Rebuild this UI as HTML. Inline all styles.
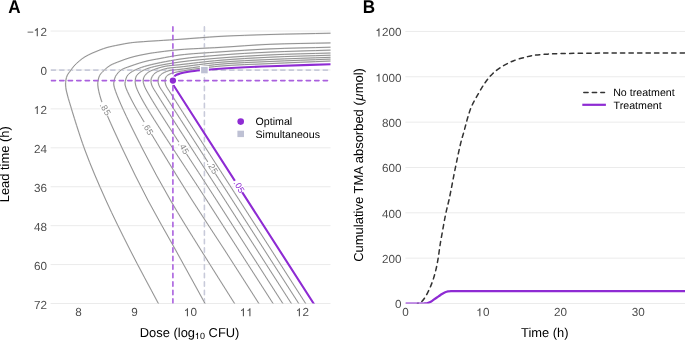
<!DOCTYPE html><html><head><meta charset="utf-8"><style>html,body{margin:0;padding:0;background:#fff;}svg{display:block;will-change:transform;text-rendering:geometricPrecision;font-family:"Liberation Sans",sans-serif;}</style></head><body>
<svg width="685" height="340" viewBox="0 0 685 340">
<rect width="685" height="340" fill="#fff"/>
<defs><clipPath id="ca"><rect x="50.6" y="26" width="279.9" height="277.5"/></clipPath><clipPath id="cb"><rect x="405.4" y="26" width="279.6" height="277.5"/></clipPath></defs>
<g stroke="#EBEBEB" stroke-width="1" fill="none">
<line x1="50.6" y1="31.05" x2="330.5" y2="31.05"/>
<line x1="50.6" y1="69.97" x2="330.5" y2="69.97"/>
<line x1="50.6" y1="108.89" x2="330.5" y2="108.89"/>
<line x1="50.6" y1="147.81" x2="330.5" y2="147.81"/>
<line x1="50.6" y1="186.74" x2="330.5" y2="186.74"/>
<line x1="50.6" y1="225.66" x2="330.5" y2="225.66"/>
<line x1="50.6" y1="264.58" x2="330.5" y2="264.58"/>
<line x1="50.6" y1="303.5" x2="330.5" y2="303.5"/>
<line x1="405.4" y1="303.5" x2="685" y2="303.5"/>
<line x1="405.4" y1="258.16" x2="685" y2="258.16"/>
<line x1="405.4" y1="212.82" x2="685" y2="212.82"/>
<line x1="405.4" y1="167.47" x2="685" y2="167.47"/>
<line x1="405.4" y1="122.13" x2="685" y2="122.13"/>
<line x1="405.4" y1="76.79" x2="685" y2="76.79"/>
<line x1="405.4" y1="31.45" x2="685" y2="31.45"/>
</g>
<g clip-path="url(#ca)">
<g fill="none" stroke-width="1.6" stroke-dasharray="4.3 4.2" stroke-linecap="round">
<line x1="204.4" y1="26.9" x2="204.4" y2="303.5" stroke="#C8CADA"/>
<line x1="51.2" y1="70.1" x2="330.5" y2="70.1" stroke="#C8CADA"/>
</g>
<g stroke="#E6E6E6" stroke-width="1.6" fill="none">
<path d="M331 33.2 C310.67 33.63 289.32 33.93 270 34.5 C252.5 35.02 235.73 35.53 220 36.4 C205.92 37.18 193.34 38.38 180 39.3 C166.67 40.22 148.7 41.2 140 41.9 C135.78 42.24 133.9 42.35 130.6 42.8 C126.88 43.31 122.73 44.12 118.8 44.9 C114.86 45.68 110.4 46.55 107 47.5 C104.34 48.25 102.4 49 100 49.9 C97.41 50.88 94.55 52.02 92 53.2 C89.56 54.33 87.15 55.48 85 56.8 C83.01 58.03 81.29 59.32 79.5 60.8 C77.61 62.37 75.59 64.21 74 66 C72.56 67.62 71.45 69.42 70.3 71 C69.27 72.4 68.13 73.52 67.4 75 C66.65 76.52 66.2 78.32 65.9 80 C65.61 81.65 65.55 83.34 65.6 85 C65.65 86.67 65.9 88.34 66.2 90 C66.5 91.68 66.97 93.34 67.4 95 C67.83 96.67 68.04 97.48 68.8 100 C71.21 108.02 78.79 133.46 84.9 150 C91.1 166.8 98.32 183.44 105.8 200 C113.37 216.77 121.5 233.05 130.1 250 C139.15 267.85 149.3 286.33 158.9 304.5"/>
<path d="M331 42.9 C310.67 43.37 289.32 43.48 270 44.3 C252.5 45.04 235.74 46.48 220 47.4 C205.93 48.22 191.03 48.66 180 49.6 C172.18 50.26 165.52 51.2 160 51.9 C156.09 52.4 153.33 52.75 150 53.3 C146.66 53.85 143.32 54.47 140 55.2 C136.66 55.94 133.31 56.71 130 57.7 C126.64 58.7 123.31 59.91 120 61.2 C116.64 62.51 112.76 63.84 110 65.5 C107.76 66.85 106.12 68.36 104.4 70 C102.69 71.63 100.76 73.41 99.7 75.3 C98.77 76.97 98.41 78.9 98.1 80.6 C97.82 82.12 97.65 83.11 97.8 85 C98.07 88.53 99.12 93.66 101.2 100 C105.11 111.93 115.28 133.43 123 150 C130.81 166.76 139.09 183.44 147.8 200 C156.62 216.77 166.18 232.96 175.6 250 C185.43 267.77 195.6 286.33 205.6 304.5"/>
<path d="M331 47.2 C310.67 47.77 289.32 48.05 270 48.9 C252.5 49.67 235.73 50.82 220 51.9 C205.92 52.87 191.02 53.61 180 55 C172.16 55.99 165.95 57.41 160 58.5 C155.2 59.38 150.7 60.14 147 61 C144.2 61.65 142.29 62.2 139.7 63 C136.68 63.93 133.14 65.11 130 66.3 C126.95 67.45 123.55 68.25 121.1 70 C118.83 71.62 116.78 74.08 115.6 76.2 C114.63 77.93 114.28 79.9 114 81.5 C113.77 82.77 113.58 83.46 113.8 85 C114.26 88.29 116.37 93.64 119 100 C123.91 111.9 134.61 133.44 143.1 150 C151.7 166.77 160.74 183.45 170.3 200 C180 216.79 190.35 233.01 200.9 250 C211.95 267.81 223.77 286.33 235.2 304.5"/>
<path d="M331 50.1 C310.67 50.77 289.32 51.2 270 52.1 C252.5 52.91 235.73 53.84 220 55.1 C205.91 56.23 192.88 57.13 180 59.1 C167.79 60.96 152.59 64.08 144.6 66.4 C140.36 67.63 137.73 68.74 135.1 70 C133.09 70.96 131.41 71.87 130 73 C128.79 73.97 127.77 74.9 127 76.2 C126.14 77.67 125.6 79.9 125.3 81.5 C125.06 82.77 124.83 83.47 125.1 85 C125.69 88.3 128.38 93.67 131.6 100 C137.68 111.93 151.07 133.38 161.1 150 C171.2 166.72 181.46 183.4 192 200 C202.62 216.73 213.58 232.95 224.6 250 C236.07 267.75 247.87 286.33 259.5 304.5"/>
<path d="M331 53 C310.67 53.63 289.32 54 270 54.9 C252.5 55.71 235.73 56.73 220 58 C205.91 59.14 191.8 60.37 180 62 C170.55 63.31 161.09 64.9 154.6 66.5 C150.46 67.52 147.26 68.53 144.6 69.7 C142.69 70.54 141.29 71.34 139.9 72.4 C138.57 73.42 137.17 74.57 136.4 75.9 C135.69 77.13 135.45 78.55 135.3 80 C135.14 81.57 135.09 82.95 135.6 85 C136.52 88.73 138.58 92.97 142.4 100 C152.79 119.1 186.16 168.17 208.04 202.25 C229.93 236.33 251.81 270.42 273.69 304.5"/>
<path d="M331 55.2 C310.67 55.87 289.32 56.28 270 57.2 C252.5 58.03 235.72 58.95 220 60.3 C205.91 61.51 190.11 63.6 180 64.7 C173.83 65.37 169.73 65.37 165.1 66.3 C160.92 67.14 156.5 68.59 153.4 69.8 C151.25 70.64 149.61 71.32 148.1 72.4 C146.72 73.39 145.42 74.58 144.6 75.9 C143.83 77.13 143.32 78.55 143.2 80 C143.07 81.57 143.35 83.04 144 85 C145.06 88.21 146.87 91.14 150.27 97 C160.54 114.67 194.68 166.17 216.88 200.75 C239.08 235.33 261.29 269.92 283.49 304.5"/>
<path d="M331 57.3 C310.67 58.03 289.32 58.61 270 59.5 C252.5 60.31 235.72 60.94 220 62.3 C205.9 63.52 189.59 65.94 180 67 C174.62 67.59 170.96 67.59 167.4 68.3 C164.7 68.84 162.54 69.56 160.4 70.4 C158.48 71.15 156.51 71.89 155.1 73 C153.86 73.98 152.89 75.27 152.2 76.5 C151.58 77.61 151.12 78.71 151 80 C150.86 81.5 151.04 83.09 151.7 85 C152.76 88.04 154.77 90.52 158.13 96 C168.61 113.1 202.75 165.5 225.06 200.25 C247.37 235 269.68 269.75 291.99 304.5"/>
<path d="M331 59.1 C310.67 59.9 289.32 60.6 270 61.5 C252.5 62.32 235.71 62.76 220 64.2 C205.9 65.5 188.89 68.38 180 69.4 C175.56 69.91 172.5 69.88 170 70.4 C168.44 70.73 167.55 71.1 166.3 71.6 C164.95 72.15 163.4 72.76 162.2 73.6 C161.05 74.41 159.89 75.39 159.2 76.5 C158.56 77.54 158.21 78.72 158.1 80 C157.98 81.51 158.13 83.13 158.8 85 C159.82 87.85 161.72 89.94 164.89 95 C175.22 111.51 209.72 164.83 232.14 199.75 C254.56 234.67 276.97 269.58 299.39 304.5"/>
<path d="M331 61 C310.67 61.87 289.32 62.71 270 63.6 C252.5 64.41 235.71 64.67 220 66.1 C205.9 67.38 188.86 69.71 180 71.4 C175.52 72.25 172.45 72.78 170 73.9 C168.38 74.64 167.12 75.41 166.3 76.5 C165.56 77.48 165.22 78.71 165.1 80 C164.96 81.5 165.15 83.16 165.8 85 C166.73 87.65 168.3 89.4 171.15 94 C180.98 109.92 216.19 164.17 238.72 199.25 C261.24 234.33 283.77 269.42 306.29 304.5"/>
</g>
<g stroke="#888888" stroke-width="0.9" fill="none">
<path d="M331 33.2 C310.67 33.63 289.32 33.93 270 34.5 C252.5 35.02 235.73 35.53 220 36.4 C205.92 37.18 193.34 38.38 180 39.3 C166.67 40.22 148.7 41.2 140 41.9 C135.78 42.24 133.9 42.35 130.6 42.8 C126.88 43.31 122.73 44.12 118.8 44.9 C114.86 45.68 110.4 46.55 107 47.5 C104.34 48.25 102.4 49 100 49.9 C97.41 50.88 94.55 52.02 92 53.2 C89.56 54.33 87.15 55.48 85 56.8 C83.01 58.03 81.29 59.32 79.5 60.8 C77.61 62.37 75.59 64.21 74 66 C72.56 67.62 71.45 69.42 70.3 71 C69.27 72.4 68.13 73.52 67.4 75 C66.65 76.52 66.2 78.32 65.9 80 C65.61 81.65 65.55 83.34 65.6 85 C65.65 86.67 65.9 88.34 66.2 90 C66.5 91.68 66.97 93.34 67.4 95 C67.83 96.67 68.04 97.48 68.8 100 C71.21 108.02 78.79 133.46 84.9 150 C91.1 166.8 98.32 183.44 105.8 200 C113.37 216.77 121.5 233.05 130.1 250 C139.15 267.85 149.3 286.33 158.9 304.5"/>
<path d="M331 42.9 C310.67 43.37 289.32 43.48 270 44.3 C252.5 45.04 235.74 46.48 220 47.4 C205.93 48.22 191.03 48.66 180 49.6 C172.18 50.26 165.52 51.2 160 51.9 C156.09 52.4 153.33 52.75 150 53.3 C146.66 53.85 143.32 54.47 140 55.2 C136.66 55.94 133.31 56.71 130 57.7 C126.64 58.7 123.31 59.91 120 61.2 C116.64 62.51 112.76 63.84 110 65.5 C107.76 66.85 106.12 68.36 104.4 70 C102.69 71.63 100.76 73.41 99.7 75.3 C98.77 76.97 98.41 78.9 98.1 80.6 C97.82 82.12 97.65 83.11 97.8 85 C98.07 88.53 99.12 93.66 101.2 100 C105.11 111.93 115.28 133.43 123 150 C130.81 166.76 139.09 183.44 147.8 200 C156.62 216.77 166.18 232.96 175.6 250 C185.43 267.77 195.6 286.33 205.6 304.5"/>
<path d="M331 47.2 C310.67 47.77 289.32 48.05 270 48.9 C252.5 49.67 235.73 50.82 220 51.9 C205.92 52.87 191.02 53.61 180 55 C172.16 55.99 165.95 57.41 160 58.5 C155.2 59.38 150.7 60.14 147 61 C144.2 61.65 142.29 62.2 139.7 63 C136.68 63.93 133.14 65.11 130 66.3 C126.95 67.45 123.55 68.25 121.1 70 C118.83 71.62 116.78 74.08 115.6 76.2 C114.63 77.93 114.28 79.9 114 81.5 C113.77 82.77 113.58 83.46 113.8 85 C114.26 88.29 116.37 93.64 119 100 C123.91 111.9 134.61 133.44 143.1 150 C151.7 166.77 160.74 183.45 170.3 200 C180 216.79 190.35 233.01 200.9 250 C211.95 267.81 223.77 286.33 235.2 304.5"/>
<path d="M331 50.1 C310.67 50.77 289.32 51.2 270 52.1 C252.5 52.91 235.73 53.84 220 55.1 C205.91 56.23 192.88 57.13 180 59.1 C167.79 60.96 152.59 64.08 144.6 66.4 C140.36 67.63 137.73 68.74 135.1 70 C133.09 70.96 131.41 71.87 130 73 C128.79 73.97 127.77 74.9 127 76.2 C126.14 77.67 125.6 79.9 125.3 81.5 C125.06 82.77 124.83 83.47 125.1 85 C125.69 88.3 128.38 93.67 131.6 100 C137.68 111.93 151.07 133.38 161.1 150 C171.2 166.72 181.46 183.4 192 200 C202.62 216.73 213.58 232.95 224.6 250 C236.07 267.75 247.87 286.33 259.5 304.5"/>
<path d="M331 53 C310.67 53.63 289.32 54 270 54.9 C252.5 55.71 235.73 56.73 220 58 C205.91 59.14 191.8 60.37 180 62 C170.55 63.31 161.09 64.9 154.6 66.5 C150.46 67.52 147.26 68.53 144.6 69.7 C142.69 70.54 141.29 71.34 139.9 72.4 C138.57 73.42 137.17 74.57 136.4 75.9 C135.69 77.13 135.45 78.55 135.3 80 C135.14 81.57 135.09 82.95 135.6 85 C136.52 88.73 138.58 92.97 142.4 100 C152.79 119.1 186.16 168.17 208.04 202.25 C229.93 236.33 251.81 270.42 273.69 304.5"/>
<path d="M331 55.2 C310.67 55.87 289.32 56.28 270 57.2 C252.5 58.03 235.72 58.95 220 60.3 C205.91 61.51 190.11 63.6 180 64.7 C173.83 65.37 169.73 65.37 165.1 66.3 C160.92 67.14 156.5 68.59 153.4 69.8 C151.25 70.64 149.61 71.32 148.1 72.4 C146.72 73.39 145.42 74.58 144.6 75.9 C143.83 77.13 143.32 78.55 143.2 80 C143.07 81.57 143.35 83.04 144 85 C145.06 88.21 146.87 91.14 150.27 97 C160.54 114.67 194.68 166.17 216.88 200.75 C239.08 235.33 261.29 269.92 283.49 304.5"/>
<path d="M331 57.3 C310.67 58.03 289.32 58.61 270 59.5 C252.5 60.31 235.72 60.94 220 62.3 C205.9 63.52 189.59 65.94 180 67 C174.62 67.59 170.96 67.59 167.4 68.3 C164.7 68.84 162.54 69.56 160.4 70.4 C158.48 71.15 156.51 71.89 155.1 73 C153.86 73.98 152.89 75.27 152.2 76.5 C151.58 77.61 151.12 78.71 151 80 C150.86 81.5 151.04 83.09 151.7 85 C152.76 88.04 154.77 90.52 158.13 96 C168.61 113.1 202.75 165.5 225.06 200.25 C247.37 235 269.68 269.75 291.99 304.5"/>
<path d="M331 59.1 C310.67 59.9 289.32 60.6 270 61.5 C252.5 62.32 235.71 62.76 220 64.2 C205.9 65.5 188.89 68.38 180 69.4 C175.56 69.91 172.5 69.88 170 70.4 C168.44 70.73 167.55 71.1 166.3 71.6 C164.95 72.15 163.4 72.76 162.2 73.6 C161.05 74.41 159.89 75.39 159.2 76.5 C158.56 77.54 158.21 78.72 158.1 80 C157.98 81.51 158.13 83.13 158.8 85 C159.82 87.85 161.72 89.94 164.89 95 C175.22 111.51 209.72 164.83 232.14 199.75 C254.56 234.67 276.97 269.58 299.39 304.5"/>
<path d="M331 61 C310.67 61.87 289.32 62.71 270 63.6 C252.5 64.41 235.71 64.67 220 66.1 C205.9 67.38 188.86 69.71 180 71.4 C175.52 72.25 172.45 72.78 170 73.9 C168.38 74.64 167.12 75.41 166.3 76.5 C165.56 77.48 165.22 78.71 165.1 80 C164.96 81.5 165.15 83.16 165.8 85 C166.73 87.65 168.3 89.4 171.15 94 C180.98 109.92 216.19 164.17 238.72 199.25 C261.24 234.33 283.77 269.42 306.29 304.5"/>
</g>
<path d="M331 64.2 C310.67 64.87 289.32 65.4 270 66.2 C252.5 66.92 231.94 67.9 220 68.7 C213.32 69.15 209.49 69.52 204.4 70 C199.5 70.46 194.35 70.82 190 71.5 C186.35 72.07 182.72 72.72 180 73.6 C178.01 74.24 176.28 74.64 175 75.8 C173.71 76.97 173.2 79 172.3 80.6 M171.44 82 L314.29 304.5" stroke="#8E2BD3" stroke-width="2.1" fill="none"/>
<rect transform="translate(104.75 108.85) rotate(68)" x="-7.3" y="-4.3" width="14.6" height="8.6" fill="#fff"/>
<text transform="translate(104.75 108.85) rotate(60)" x="0.6" y="2.6" font-size="8.8" letter-spacing="0.35" text-anchor="middle" fill="#888888">.85</text>
<rect transform="translate(147.3 128.4) rotate(59.5)" x="-7" y="-4.3" width="14" height="8.6" fill="#fff"/>
<text transform="translate(147.3 128.4) rotate(60)" x="0.6" y="2.6" font-size="8.8" letter-spacing="0.35" text-anchor="middle" fill="#888888">.65</text>
<rect transform="translate(183.05 147.8) rotate(57.3)" x="-7.1" y="-4.3" width="14.2" height="8.6" fill="#fff"/>
<text transform="translate(183.05 147.8) rotate(59.5)" x="0.6" y="2.6" font-size="8.8" letter-spacing="0.35" text-anchor="middle" fill="#888888">.45</text>
<rect transform="translate(211.95 167.45) rotate(57.3)" x="-7" y="-4.3" width="14" height="8.6" fill="#fff"/>
<text transform="translate(211.95 167.45) rotate(59.5)" x="0.6" y="2.6" font-size="8.8" letter-spacing="0.35" text-anchor="middle" fill="#888888">.25</text>
<rect transform="translate(238.6 186.5) rotate(57.3)" x="-6.8" y="-4.3" width="13.6" height="8.6" fill="#fff"/>
<text transform="translate(238.6 186.5) rotate(59.5)" x="0.6" y="2.6" font-size="8.8" letter-spacing="0.35" text-anchor="middle" fill="#8E2BD3">.05</text>
<g fill="none" stroke-width="1.6" stroke-dasharray="4.3 4.2" stroke-linecap="round">
<line x1="172.9" y1="26.9" x2="172.9" y2="303.5" stroke="#AA60DE"/>
<line x1="51.2" y1="80.6" x2="330.5" y2="80.6" stroke="#AA60DE"/>
</g>
<rect x="199.9" y="65.7" width="9" height="8.8" fill="#fff"/>
<rect x="201.1" y="66.9" width="6.6" height="6.4" fill="#BEC1D4"/>
<circle cx="172.9" cy="80.6" r="4.4" fill="#fff"/>
<circle cx="172.9" cy="80.6" r="3.15" fill="#8E2BD3"/>
</g>
<g clip-path="url(#cb)">
<path d="M417.5 303.5 C418.2 303.33 418.93 303.29 419.6 303 C420.33 302.68 420.97 302.28 421.7 301.6 C422.8 300.58 424.04 298.91 425.2 297.1 C426.72 294.73 428.36 291.36 429.7 288.4 C431.03 285.46 432.15 282.57 433.2 279.4 C434.34 275.97 435.36 272.12 436.2 268.5 C437.02 264.98 437.59 261.66 438.2 258 C438.86 254.02 439.3 249.89 440 245.5 C440.78 240.61 441.74 235.28 442.7 230 C443.7 224.46 444.76 218.38 445.9 213 C446.94 208.09 447.98 204.62 449.2 199 C451.03 190.56 453.48 176.96 455.5 167.2 C457.23 158.85 458.84 150.74 460.5 144 C461.8 138.73 463.18 134.49 464.4 130 C465.53 125.85 466.41 121.94 467.6 118 C468.78 114.11 469.81 110.38 471.5 106.5 C473.36 102.22 476.09 97.67 478.5 93.5 C480.8 89.51 483.11 85.44 485.6 82 C487.83 78.92 489.94 76.22 492.6 73.7 C495.37 71.07 498.58 68.72 502 66.6 C505.62 64.36 509.8 62.3 513.8 60.7 C517.67 59.15 522.01 58.04 525.6 57.1 C528.56 56.32 530.84 55.76 533.8 55.3 C537.23 54.77 540.99 54.57 545 54.3 C549.63 53.99 553.8 53.78 560 53.6 C570.13 53.3 586.67 53.21 600 53.1 C613.33 52.99 626.2 52.98 640 52.95 C654.8 52.91 670.67 52.92 686 52.9" stroke="#333" stroke-width="1.5" fill="none" stroke-dasharray="4.3 4.2" stroke-dashoffset="12.1" stroke-linecap="round"/>
<path d="M405.4 303.5 C411.6 303.5 420.45 303.65 424 303.5 C425.43 303.44 426.04 303.46 427 303.25 C427.94 303.05 428.84 302.71 429.7 302.3 C430.57 301.89 431.4 301.34 432.2 300.8 C433 300.27 433.62 299.72 434.5 299.1 C435.64 298.29 437.21 297.28 438.5 296.4 C439.71 295.58 440.84 294.7 442 294 C443.07 293.35 444.15 292.73 445.2 292.3 C446.15 291.91 447.04 291.64 448 291.45 C448.97 291.26 449.73 291.22 451 291.15 C453.19 291.03 455 291.11 460 291.1 C485.06 291.03 610.67 291.1 686 291.1" stroke="#8E2BD3" stroke-width="2.2" fill="none" stroke-linejoin="round"/>
</g>
<text x="27.06 40.39" y="36.15" font-size="11.7" fill="#4D4D4D">−2</text><path transform="translate(33.89 36.15) scale(11.7)" d="M0.335 0L0.243 0L0.243 -0.51C0.195 -0.478 0.14 -0.466 0.085 -0.462L0.085 -0.54C0.18 -0.556 0.235 -0.605 0.258 -0.69L0.335 -0.69Z" fill="#4D4D4D"/>
<text x="40.39" y="75.07" font-size="11.7" fill="#4D4D4D">0</text>
<text x="40.39" y="113.99" font-size="11.7" fill="#4D4D4D">2</text><path transform="translate(33.89 113.99) scale(11.7)" d="M0.335 0L0.243 0L0.243 -0.51C0.195 -0.478 0.14 -0.466 0.085 -0.462L0.085 -0.54C0.18 -0.556 0.235 -0.605 0.258 -0.69L0.335 -0.69Z" fill="#4D4D4D"/>
<text x="33.89 40.39" y="152.91" font-size="11.7" fill="#4D4D4D">24</text>
<text x="33.89 40.39" y="191.84" font-size="11.7" fill="#4D4D4D">36</text>
<text x="33.89 40.39" y="230.76" font-size="11.7" fill="#4D4D4D">48</text>
<text x="33.89 40.39" y="269.68" font-size="11.7" fill="#4D4D4D">60</text>
<text x="33.89 40.39" y="308.6" font-size="11.7" fill="#4D4D4D">72</text>
<text x="395.09" y="308.45" font-size="11.7" fill="#4D4D4D">0</text>
<text x="382.08 388.59 395.09" y="263.11" font-size="11.7" fill="#4D4D4D">200</text>
<text x="382.08 388.59 395.09" y="217.77" font-size="11.7" fill="#4D4D4D">400</text>
<text x="382.08 388.59 395.09" y="172.42" font-size="11.7" fill="#4D4D4D">600</text>
<text x="382.08 388.59 395.09" y="127.08" font-size="11.7" fill="#4D4D4D">800</text>
<text x="382.08 388.59 395.09" y="81.74" font-size="11.7" fill="#4D4D4D">000</text><path transform="translate(375.58 81.74) scale(11.7)" d="M0.335 0L0.243 0L0.243 -0.51C0.195 -0.478 0.14 -0.466 0.085 -0.462L0.085 -0.54C0.18 -0.556 0.235 -0.605 0.258 -0.69L0.335 -0.69Z" fill="#4D4D4D"/>
<text x="382.08 388.59 395.09" y="36.4" font-size="11.7" fill="#4D4D4D">200</text><path transform="translate(375.58 36.4) scale(11.7)" d="M0.335 0L0.243 0L0.243 -0.51C0.195 -0.478 0.14 -0.466 0.085 -0.462L0.085 -0.54C0.18 -0.556 0.235 -0.605 0.258 -0.69L0.335 -0.69Z" fill="#4D4D4D"/>
<text x="75.35" y="316.3" font-size="11.7" fill="#4D4D4D">8</text>
<text x="131.32" y="316.3" font-size="11.7" fill="#4D4D4D">9</text>
<text x="190.55" y="316.3" font-size="11.7" fill="#4D4D4D">0</text><path transform="translate(184.04 316.3) scale(11.7)" d="M0.335 0L0.243 0L0.243 -0.51C0.195 -0.478 0.14 -0.466 0.085 -0.462L0.085 -0.54C0.18 -0.556 0.235 -0.605 0.258 -0.69L0.335 -0.69Z" fill="#4D4D4D"/>
<path transform="translate(240.02 316.3) scale(11.7)" d="M0.335 0L0.243 0L0.243 -0.51C0.195 -0.478 0.14 -0.466 0.085 -0.462L0.085 -0.54C0.18 -0.556 0.235 -0.605 0.258 -0.69L0.335 -0.69Z" fill="#4D4D4D"/><path transform="translate(246.53 316.3) scale(11.7)" d="M0.335 0L0.243 0L0.243 -0.51C0.195 -0.478 0.14 -0.466 0.085 -0.462L0.085 -0.54C0.18 -0.556 0.235 -0.605 0.258 -0.69L0.335 -0.69Z" fill="#4D4D4D"/>
<text x="302.5" y="316.3" font-size="11.7" fill="#4D4D4D">2</text><path transform="translate(295.99 316.3) scale(11.7)" d="M0.335 0L0.243 0L0.243 -0.51C0.195 -0.478 0.14 -0.466 0.085 -0.462L0.085 -0.54C0.18 -0.556 0.235 -0.605 0.258 -0.69L0.335 -0.69Z" fill="#4D4D4D"/>
<text x="402.15" y="316.3" font-size="11.7" fill="#4D4D4D">0</text>
<text x="483" y="316.3" font-size="11.7" fill="#4D4D4D">0</text><path transform="translate(476.49 316.3) scale(11.7)" d="M0.335 0L0.243 0L0.243 -0.51C0.195 -0.478 0.14 -0.466 0.085 -0.462L0.085 -0.54C0.18 -0.556 0.235 -0.605 0.258 -0.69L0.335 -0.69Z" fill="#4D4D4D"/>
<text x="554.09 560.6" y="316.3" font-size="11.7" fill="#4D4D4D">20</text>
<text x="631.69 638.2" y="316.3" font-size="11.7" fill="#4D4D4D">30</text>
<g font-size="12.9" fill="#000">
<text x="139.8" y="336.6">Dose (log</text>
<text x="200.01" y="339" font-size="9" fill="#000">0</text><path transform="translate(195.01 339) scale(9)" d="M0.335 0L0.243 0L0.243 -0.51C0.195 -0.478 0.14 -0.466 0.085 -0.462L0.085 -0.54C0.18 -0.556 0.235 -0.605 0.258 -0.69L0.335 -0.69Z" fill="#000"/>
<text x="208.6" y="336.6">CFU)</text>
<text x="544.8" y="336.6" text-anchor="middle">Time (h)</text>
<text transform="translate(9.3 164.3) rotate(-90)" text-anchor="middle">Lead time (h)</text>
<text transform="translate(363.3 164.95) rotate(-90)" text-anchor="middle" font-size="12.98">Cumulative TMA absorbed (<tspan dx="0.4" font-style="italic">μ</tspan><tspan dx="0.4">mol)</tspan></text>
</g>
<text transform="translate(8.2 12.5) scale(1 1.075)" font-size="17.1" font-weight="bold">A</text>
<text transform="translate(362.7 12.5) scale(1 1.075)" font-size="17.1" font-weight="bold">B</text>
<circle cx="240.7" cy="121.6" r="3.3" fill="#8E2BD3"/>
<rect x="237.4" y="130.7" width="6.6" height="6.4" fill="#BEC1D4"/>
<g font-size="10.65" fill="#000"><text x="255.5" y="125.4">Optimal</text><text x="255.5" y="137.8">Simultaneous</text></g>
<line x1="583.8" y1="92.4" x2="604.5" y2="92.4" stroke="#333" stroke-width="1.5" stroke-dasharray="4.3 4.2" stroke-linecap="round"/>
<line x1="582.3" y1="104.8" x2="605.9" y2="104.8" stroke="#8E2BD3" stroke-width="2.2"/>
<g font-size="10.65" fill="#000"><text x="613.2" y="96.3">No treatment</text><text x="613.6" y="108.6">Treatment</text></g>
</svg></body></html>
